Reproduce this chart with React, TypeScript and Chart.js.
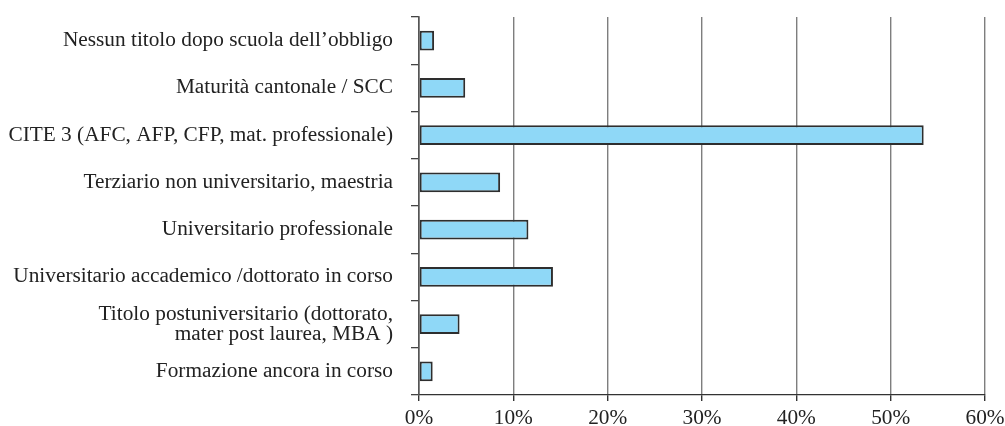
import React, { useEffect, useRef } from "react";
import { Chart, registerables } from "chart.js";

Chart.register(...registerables);

const categories: (string | string[])[] = [
  "Nessun titolo dopo scuola dell’obbligo",
  "Maturità cantonale / SCC",
  "CITE 3 (AFC, AFP, CFP, mat. professionale)",
  "Terziario non universitario, maestria",
  "Universitario professionale",
  "Universitario accademico /dottorato in corso",
  ["Titolo postuniversitario (dottorato,", "mater post laurea, MBA )"],
  "Formazione ancora in corso",
];

const shares = [1.6, 4.9, 53.5, 8.6, 11.6, 14.2, 4.3, 1.45];

const xTicks = [0, 10, 20, 30, 40, 50, 60];

export default function App() {
  const ref = useRef<HTMLCanvasElement | null>(null);

  useEffect(() => {
    document.body.style.margin = "0";
    const canvas = ref.current;
    if (!canvas) return;
    const family = "'Liberation Serif', 'Times New Roman', serif";
    const chart = new Chart(canvas, {
      type: "bar",
      data: {
        labels: categories,
        datasets: [
          {
            data: shares,
            backgroundColor: "#8fd8f7",
            borderColor: "#2e2e2e",
            borderWidth: 2,
            borderSkipped: false,
            categoryPercentage: 1,
            barPercentage: 0.42,
          },
        ],
      },
      options: {
        indexAxis: "y",
        animation: false,
        responsive: false,
        devicePixelRatio: 1,
        layout: { padding: { top: 17, left: 0, right: 20, bottom: 0 } },
        plugins: { legend: { display: false }, tooltip: { enabled: false } },
        scales: {
          x: {
            min: 0,
            max: 60,
            afterBuildTicks: (scale: any) => {
              scale.ticks = xTicks.map((v) => ({ value: v }));
            },
            afterFit: (scale: any) => {
              scale.height = 31;
              scale.paddingLeft = 0;
              scale.paddingRight = 0;
            },
            border: { display: true, color: "#333333", width: 1.3 },
            grid: {
              display: true,
              drawOnChartArea: true,
              drawTicks: true,
              tickLength: 6,
              color: "#7e7e7e",
              lineWidth: 1.4,
              tickColor: "#333333",
            },
            ticks: {
              color: "#222222",
              font: { family, size: 21.3, lineHeight: 1.0 },
              padding: 7,
              maxRotation: 0,
              callback: (v: any) => `${v}%`,
            },
          },
          y: {
            afterFit: (scale: any) => {
              scale.width = 419;
              scale.paddingTop = 0;
              scale.paddingBottom = 0;
            },
            border: { display: true, color: "#555555", width: 1.6 },
            grid: {
              display: true,
              offset: true,
              drawOnChartArea: false,
              drawTicks: true,
              tickLength: 8,
              tickColor: "#444444",
              lineWidth: 1.3,
            },
            ticks: {
              color: "#222222",
              font: { family, size: 21.3, lineHeight: 0.92 },
              padding: 18,
              autoSkip: false,
            },
          },
        },
      },
    } as any);
    return () => chart.destroy();
  }, []);

  return <canvas ref={ref} width={1005} height={426} style={{ display: "block", width: 1005, height: 426 }} />;
}
